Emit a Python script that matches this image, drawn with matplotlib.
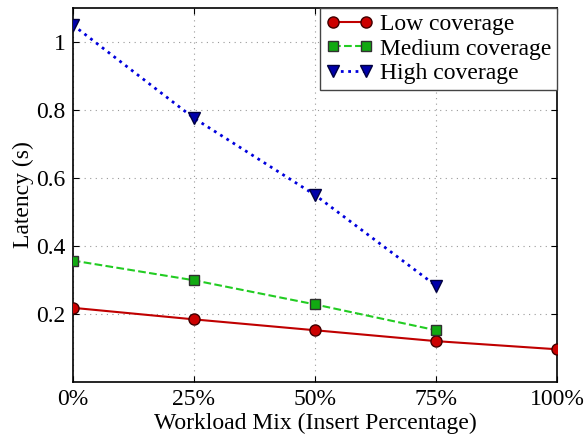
import matplotlib
matplotlib.use('Agg')
import matplotlib.pyplot as plt

# workload mix (insert percentage) and measured latency per coverage level
mix_low = [0, 25, 50, 75, 100]
lat_low = [0.218, 0.184, 0.152, 0.120, 0.096]

mix_med = [0, 25, 50, 75]
lat_med = [0.357, 0.299, 0.228, 0.152]

mix_high = [0, 25, 50, 75]
lat_high = [1.05, 0.776, 0.550, 0.283]

x_ticks = [0, 25, 50, 75, 100]
x_labels = ['0%', '25%', '50%', '75%', '100%']
y_ticks = [0.2, 0.4, 0.6, 0.8, 1.0]
y_labels = ['0.2', '0.4', '0.6', '0.8', '1']

plt.rcParams['font.family'] = ['Liberation Serif', 'DejaVu Serif']
plt.rcParams['mathtext.fontset'] = 'stix'

fig = plt.figure(figsize=(5.87, 4.40), dpi=100)
ax = fig.add_axes([0.124, 0.132, 0.825, 0.850])

ax.plot(mix_low, lat_low, '-', color='#c00000', lw=1.5, marker='o',
        markersize=8, markerfacecolor='#cc0000', markeredgecolor='#400000',
        label='Low coverage', zorder=3)
ax.plot(mix_med, lat_med, '--', color='#22cc22', lw=1.5, marker='s',
        markersize=7, markerfacecolor='#11aa11', markeredgecolor='#303030',
        label='Medium coverage', zorder=3)
ax.plot(mix_high, lat_high, ':', color='#0000dd', lw=2, marker='v',
        markersize=8, markerfacecolor='#0000aa', markeredgecolor='#000040',
        label='High coverage', zorder=3)

ax.set_xlim(0, 100)
ax.set_ylim(0, 1.1)
ax.set_xticks(x_ticks)
ax.set_xticklabels(x_labels, fontsize=17)
ax.set_yticks(y_ticks)
ax.set_yticklabels(y_labels, fontsize=17)
ax.tick_params(direction='in', top=True, right=True, length=4, pad=5)
ax.grid(True, linestyle=(0, (1, 4)), color='#999999', lw=0.8)
for s in ax.spines.values():
    s.set_linewidth(1.2)

ax.set_xlabel('Workload Mix (Insert Percentage)', fontsize=17, labelpad=2)
ax.set_ylabel('Latency (s)', fontsize=17, labelpad=2)

leg = ax.legend(loc='upper right', fontsize=17, fancybox=False, framealpha=1,
                edgecolor='#444444', borderpad=0.25, labelspacing=0.12,
                handlelength=2.0, handletextpad=0.3, borderaxespad=0,
                numpoints=2)
leg.get_frame().set_linewidth(1)

plt.savefig('out.png', dpi=100)
plt.close()
